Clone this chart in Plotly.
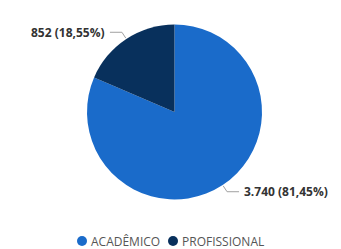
import math
import plotly.graph_objects as go

categories = ["ACADÊMICO", "PROFISSIONAL"]
values = [3740, 852]
colors = ["#1A6BCA", "#08305C"]

W, H = 341, 249
CX, CY, R = 174.5, 112, 87.5

def fmt_int(v):
    return f"{v:,}".replace(",", ".")

def fmt_pct(p):
    return f"{p:.2f}".replace(".", ",") + "%"

total = sum(values)
labels_txt = [f"{fmt_int(v)} ({fmt_pct(100 * v / total)})" for v in values]

fig = go.Figure()
fig.add_trace(go.Pie(
    labels=categories, values=values, sort=False, direction="clockwise", rotation=0,
    marker=dict(colors=colors, line=dict(width=0)),
    textinfo="none", hoverinfo="label+value+percent", showlegend=False,
    domain=dict(x=[(CX - R) / W, (CX + R) / W], y=[1 - (CY + R) / H, 1 - (CY - R) / H]),
))

def px(x):
    return x / W

def py(y):
    return 1 - y / H

shapes, annots = [], []
cum = 0
for v, t in zip(values, labels_txt):
    mid = (cum + v / 2) / total * 360
    cum += v
    ang = math.radians(90 - mid)
    x0 = CX + (R + 1) * math.cos(ang)
    y0 = CY - (R + 1) * math.sin(ang)
    x1 = CX + (R + 8) * math.cos(ang)
    y1 = CY - (R + 8) * math.sin(ang)
    side = 1 if math.cos(ang) >= 0 else -1
    x2 = x1 + side * 12
    shapes.append(dict(type="path", xref="paper", yref="paper",
                       path=f"M {px(x0)} {py(y0)} L {px(x1)} {py(y1)} L {px(x2)} {py(y1)}",
                       line=dict(color="#A0A0A0", width=1)))
    annots.append(dict(xref="paper", yref="paper", x=px(x2 + side * 3), y=py(y1),
                       text=f"<b>{t}</b>", showarrow=False,
                       xanchor="left" if side > 0 else "right", yanchor="middle",
                       font=dict(family="Open Sans", size=12, color="#333333")))

# legend: circle markers + labels
LEG_Y = 241
leg_marker_x = [82, 173]
for c, col, mx in zip(categories, colors, leg_marker_x):
    shapes.append(dict(type="circle", xref="paper", yref="paper",
                       x0=px(mx - 5), x1=px(mx + 5), y0=py(LEG_Y + 5), y1=py(LEG_Y - 5),
                       fillcolor=col, line=dict(width=0)))
    annots.append(dict(xref="paper", yref="paper", x=px(mx + 7), y=py(LEG_Y), text=c,
                       showarrow=False, xanchor="left", yanchor="middle",
                       font=dict(family="Open Sans", size=12, color="#555555")))

fig.update_layout(
    width=W, height=H, margin=dict(l=0, r=0, t=0, b=0),
    paper_bgcolor="white", plot_bgcolor="white",
    shapes=shapes, annotations=annots,
    showlegend=False,
)

fig.write_html("out.html", config={"displayModeBar": False},
               post_script="document.body.style.margin='0';")
